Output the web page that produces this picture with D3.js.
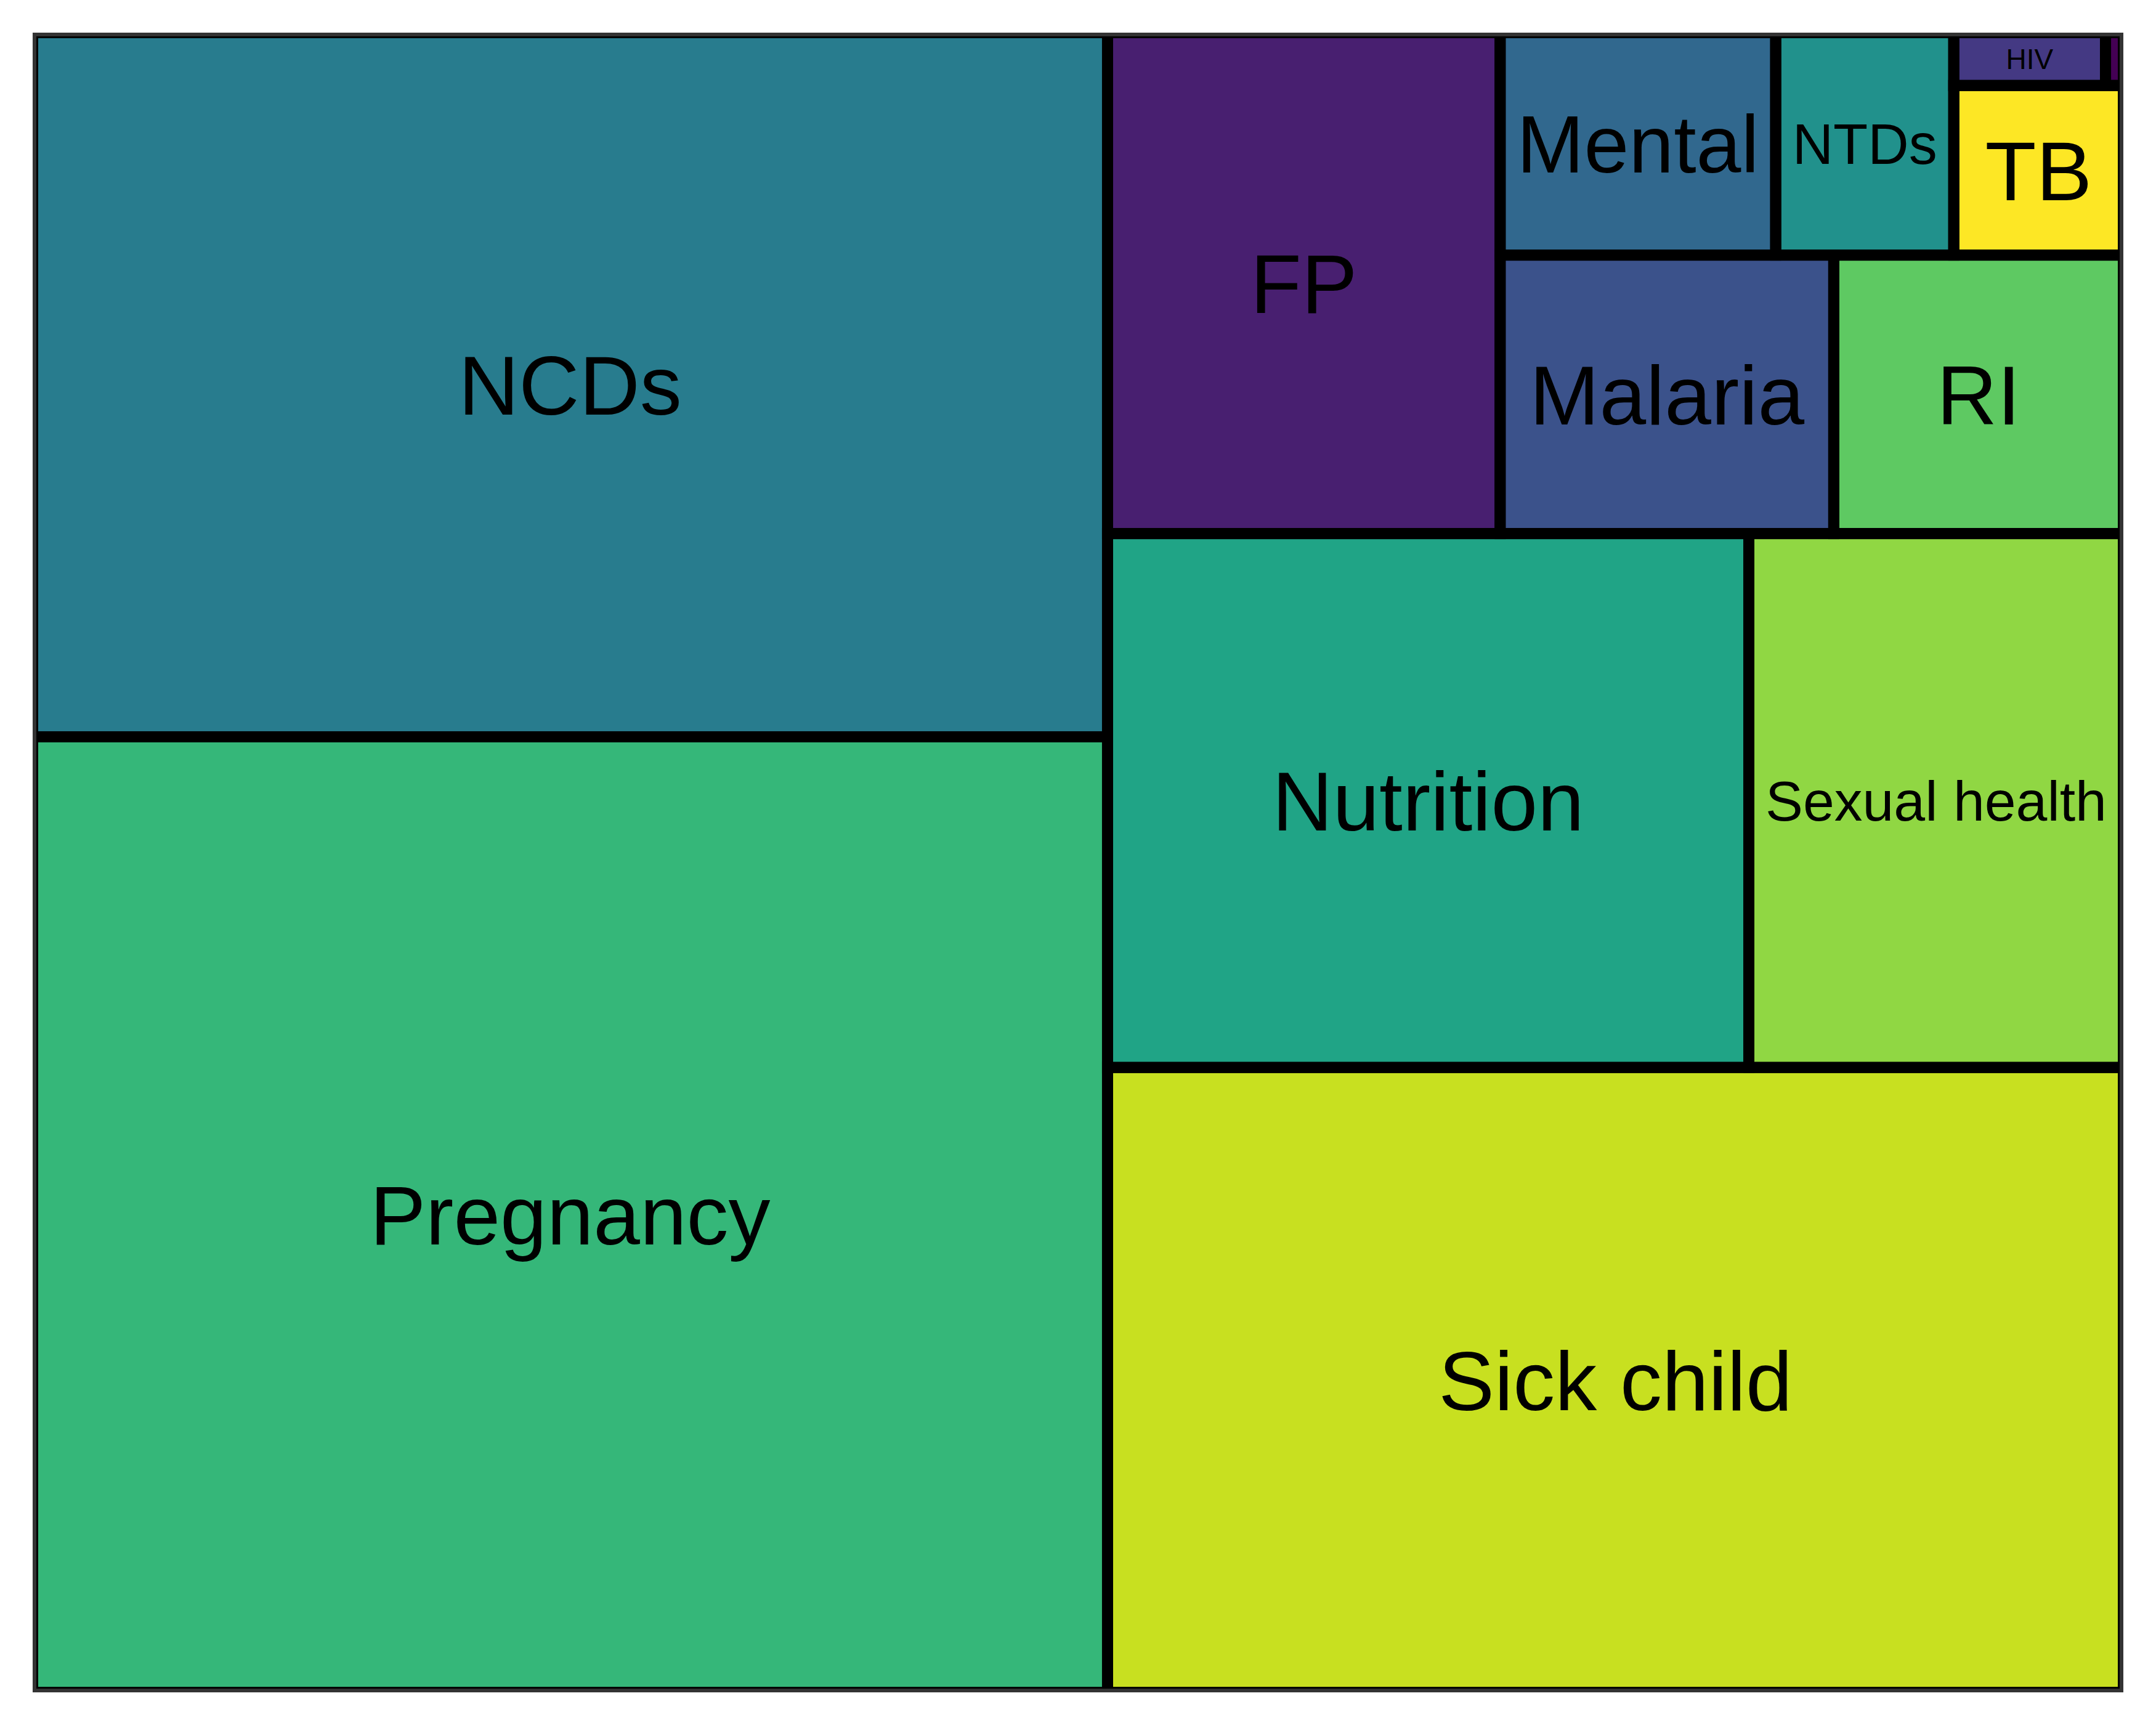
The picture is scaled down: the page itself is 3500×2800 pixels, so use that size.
<!DOCTYPE html>
<html>
<head>
<meta charset="utf-8">
<script src="https://cdn.jsdelivr.net/npm/d3@7"></script>
<style>
  html, body { margin: 0; padding: 0; background: #ffffff; }
  svg { display: block; }
</style>
</head>
<body>
<svg id="chart" width="3500" height="2800"></svg>
<script>
// ---- data ----
const categories = ["Pregnancy", "NCDs", "Sick child", "Nutrition", "Sexual health", "FP",
                    "Malaria", "RI", "Mental", "NTDs", "TB", "HIV", "Eye care"];
const values = [2178, 1605, 1346, 726, 424, 417, 197, 171, 130, 84, 61, 17, 2];

// ---- layout ----
const W = 3500, H = 2800;
const panel = {x0: 53, x1: 3447, y0: 53, y1: 2747};
const baseFont = 136, pad = 27, minFont = 30;
const fontFamily = "'Liberation Sans', Arial, Helvetica, sans-serif";

const svg = d3.select("#chart");
svg.append("rect").attr("width", W).attr("height", H).attr("fill", "#ffffff");

const root = d3.hierarchy({children: categories.map((c, i) => ({name: c, value: values[i]}))})
  .sum(d => d.value || 0)
  .sort((a, b) => b.value - a.value);

d3.treemap().tile(d3.treemapSquarify.ratio(1)).size([1, 1]).round(false)(root);

const x = d3.scaleLinear().domain([0, 1]).range([panel.x0, panel.x1]);
const y = d3.scaleLinear().domain([0, 1]).range([panel.y1, panel.y0]); // rows start at the bottom

const color = d3.scaleOrdinal()
  .domain(categories.slice().sort(d3.ascending))
  .range(d3.quantize(d3.interpolateViridis, categories.length));

const defs = svg.append("defs");
defs.append("clipPath").attr("id", "panelClip")
  .append("rect")
  .attr("x", panel.x0).attr("y", panel.y0)
  .attr("width", panel.x1 - panel.x0).attr("height", panel.y1 - panel.y0);

const g = svg.append("g").attr("clip-path", "url(#panelClip)");
const leaves = root.leaves();

const rx = d => x(d.x0), ry = d => y(d.y1);
const rw = d => x(d.x1) - x(d.x0), rh = d => y(d.y0) - y(d.y1);

g.selectAll("rect.fill").data(leaves).join("rect")
  .attr("class", "fill")
  .attr("x", rx).attr("y", ry).attr("width", rw).attr("height", rh)
  .attr("fill", d => color(d.data.name));

g.selectAll("rect.edge").data(leaves).join("rect")
  .attr("class", "edge")
  .attr("x", rx).attr("y", ry).attr("width", rw).attr("height", rh)
  .attr("fill", "none").attr("stroke", "#000000").attr("stroke-width", 18);

// ---- labels: shrink to fit inside tile ----
const ctx = document.createElement("canvas").getContext("2d");
ctx.font = baseFont + "px " + fontFamily;
const capH = 0.716;

leaves.forEach(d => {
  const name = d.data.name;
  const m = ctx.measureText(name);
  const tw = m.width;
  const th = (m.actualBoundingBoxAscent || capH * baseFont);
  const w = rw(d), h = rh(d);
  let fs = baseFont;
  fs = Math.min(fs, baseFont * (w - 2 * pad) / tw);
  fs = Math.min(fs, baseFont * (h - 2 * pad) / th);
  d.fs = fs;
});

g.selectAll("text.label").data(leaves.filter(d => d.fs >= minFont)).join("text")
  .attr("class", "label")
  .attr("x", d => rx(d) + rw(d) / 2)
  .attr("y", d => ry(d) + rh(d) / 2 + capH * d.fs / 2)
  .attr("text-anchor", "middle")
  .attr("font-family", fontFamily)
  .attr("font-size", d => d.fs)
  .attr("fill", "#000000")
  .text(d => d.data.name);

// ---- panel border ----
svg.append("rect")
  .attr("x", panel.x0 + 3).attr("y", panel.y0 + 3)
  .attr("width", panel.x1 - panel.x0 - 6).attr("height", panel.y1 - panel.y0 - 6)
  .attr("fill", "none").attr("stroke", "#333333").attr("stroke-width", 6);
</script>
</body>
</html>
